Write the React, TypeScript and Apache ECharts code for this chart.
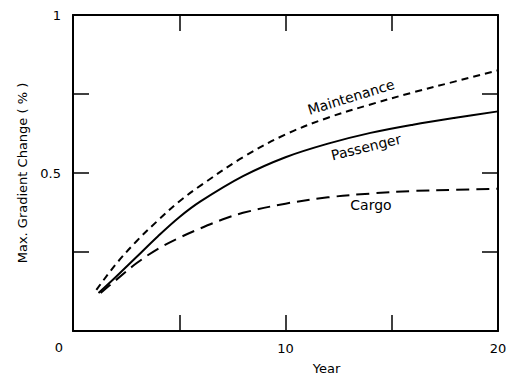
import React, { useEffect, useRef } from "react";
import * as echarts from "echarts";

const maintenanceYears = [1.1, 2, 3, 4, 5, 6, 8, 10, 12, 14, 16, 18, 20];
const maintenanceValues = [0.13, 0.21, 0.285, 0.35, 0.41, 0.46, 0.55, 0.622, 0.675, 0.717, 0.755, 0.79, 0.825];

const passengerYears = [1.2, 2, 3, 4, 5, 6, 8, 10, 12, 14, 16, 18, 20];
const passengerValues = [0.12, 0.17, 0.235, 0.3, 0.36, 0.41, 0.49, 0.55, 0.593, 0.627, 0.653, 0.675, 0.695];

const cargoYears = [1.3, 2, 3, 4, 5, 6, 7, 8, 10, 12, 14, 16, 18, 20];
const cargoValues = [0.12, 0.16, 0.215, 0.26, 0.295, 0.325, 0.352, 0.374, 0.403, 0.423, 0.435, 0.443, 0.447, 0.45];

const xLabels = [10, 20];
const yLabels = [0.5, 1];

const FONT = "DejaVu Sans";

const pairs = (xs: number[], ys: number[]) => xs.map((x, i) => [x, ys[i]]);

export default function App() {
  const ref = useRef<HTMLDivElement>(null);
  useEffect(() => {
    if (!ref.current) return;
    const chart = echarts.init(ref.current, null, { renderer: "svg" });
    const axisLine = { show: true, onZero: false, lineStyle: { color: "#000", width: 2 } };
    const tick = { show: true, inside: true, length: 16, lineStyle: { color: "#000", width: 1.5 } };
    const lineBase = { type: "line", smooth: 0.35, symbol: "none" };
    chart.setOption({
      animation: false,
      backgroundColor: "#fff",
      textStyle: { fontFamily: FONT },
      grid: { left: 73, top: 15, right: 9, bottom: 45, outerBoundsMode: "none", containLabel: false },
      xAxis: [
        {
          type: "value",
          position: "bottom",
          min: 0,
          max: 20,
          interval: 5,
          axisLine,
          axisTick: tick,
          splitLine: { show: false },
          axisLabel: {
            color: "#000",
            fontSize: 13,
            fontFamily: FONT,
            margin: 11,
            formatter: (v: number) => (xLabels.includes(v) ? String(v) : ""),
          },
          name: "Year",
          nameLocation: "middle",
          nameGap: 31,
          nameTextStyle: { color: "#000", fontSize: 13, fontFamily: FONT, padding: [0, 0, 0, 82] },
        },
        {
          type: "value",
          position: "top",
          min: 0,
          max: 20,
          interval: 5,
          axisLine,
          axisTick: tick,
          splitLine: { show: false },
          axisLabel: { show: false },
        },
      ],
      yAxis: [
        {
          type: "value",
          position: "left",
          min: 0,
          max: 1,
          interval: 0.25,
          axisLine,
          axisTick: tick,
          splitLine: { show: false },
          axisLabel: {
            color: "#000",
            fontSize: 13,
            fontFamily: FONT,
            margin: 12,
            formatter: (v: number) => (yLabels.includes(v) ? String(v) : ""),
          },
          name: "Max. Gradient Change ( % )",
          nameLocation: "middle",
          nameGap: 44,
          nameTextStyle: { color: "#000", fontSize: 13, fontFamily: FONT },
        },
        {
          type: "value",
          position: "right",
          min: 0,
          max: 1,
          interval: 0.25,
          axisLine,
          axisTick: tick,
          splitLine: { show: false },
          axisLabel: { show: false },
        },
      ],
      series: [
        {
          ...lineBase,
          name: "Maintenance",
          data: pairs(maintenanceYears, maintenanceValues),
          lineStyle: { color: "#000", width: 2, type: [7, 5] },
        },
        {
          ...lineBase,
          name: "Passenger",
          data: pairs(passengerYears, passengerValues),
          lineStyle: { color: "#000", width: 2, type: "solid" },
        },
        {
          ...lineBase,
          name: "Cargo",
          data: pairs(cargoYears, cargoValues),
          lineStyle: { color: "#000", width: 2, type: [13, 7] },
        },
      ],
      graphic: [
        {
          type: "text",
          x: 59,
          y: 347,
          style: { text: "0", fill: "#000", font: `13px "${FONT}"`, align: "center", verticalAlign: "middle" },
        },
        {
          type: "text",
          x: 351,
          y: 97,
          rotation: 0.3,
          style: { text: "Maintenance", fill: "#000", font: `14px "${FONT}"`, align: "center", verticalAlign: "middle" },
        },
        {
          type: "text",
          x: 366,
          y: 147,
          rotation: 0.24,
          style: { text: "Passenger", fill: "#000", font: `14px "${FONT}"`, align: "center", verticalAlign: "middle" },
        },
        {
          type: "text",
          x: 371,
          y: 205,
          style: { text: "Cargo", fill: "#000", font: `14px "${FONT}"`, align: "center", verticalAlign: "middle" },
        },
      ],
    });
    return () => chart.dispose();
  }, []);
  return <div ref={ref} style={{ width: 507, height: 376, position: "absolute", left: 0, top: 0 }} />;
}
